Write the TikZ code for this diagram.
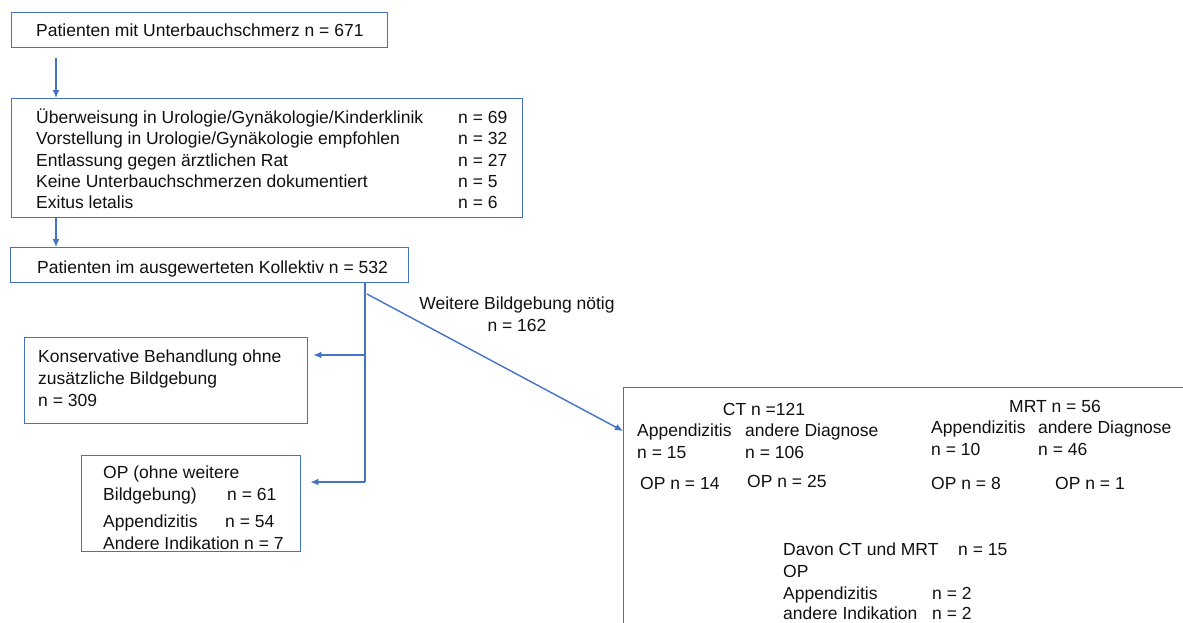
\documentclass[tikz,border=0pt]{standalone}
\usepackage{fontspec}
\setmainfont{Liberation Sans}
\usetikzlibrary{arrows.meta}
\definecolor{obl}{HTML}{4472C4}
\definecolor{txt}{HTML}{101010}
\begin{document}
\begin{tikzpicture}[x=1pt,y=-1pt,
  box/.style={draw=obl, line width=1.4pt, anchor=north west, inner sep=0pt},
  lbl/.style={anchor=base west, inner sep=0pt, text=txt, font=\fontsize{17.5}{21}\selectfont},
  clbl/.style={lbl, anchor=base},
  arr/.style={draw=obl, line width=1.4pt, -{Latex[length=8pt,width=7pt]}},
  ln/.style={draw=obl, line width=1.4pt}]
\useasboundingbox (0,0) rectangle (1183,622);
\clip (0,0) rectangle (1183,622);
% boxes
\node[box, minimum width=376, minimum height=35] (b1) at (11,12) {};
\node[box, minimum width=511, minimum height=119] (b2) at (11,98) {};
\node[box, minimum width=398, minimum height=35] (b3) at (10,247) {};
\node[box, minimum width=283, minimum height=86] (b4) at (24,337) {};
\node[box, minimum width=219, minimum height=96] (b5) at (81,455) {};
\node[box, minimum width=620, minimum height=280] (b6) at (623,387) {};
% texts
\node[lbl] (t1) at (36,36) {Patienten mit Unterbauchschmerz n = 671};
\node[lbl] (t2a) at (36,123) {Überweisung in Urologie/Gynäkologie/Kinderklinik};
\node[lbl] (t2b) at (36,144) {Vorstellung in Urologie/Gynäkologie empfohlen};
\node[lbl] (t2c) at (36,166) {Entlassung gegen ärztlichen Rat};
\node[lbl] (t2d) at (36,187) {Keine Unterbauchschmerzen dokumentiert};
\node[lbl] (t2e) at (36,208) {Exitus letalis};
\node[lbl] (n2a) at (458,123) {n = 69};
\node[lbl] (n2b) at (458,144) {n = 32};
\node[lbl] (n2c) at (458,166) {n = 27};
\node[lbl] (n2d) at (458,187) {n = 5};
\node[lbl] (n2e) at (458,208) {n = 6};
\node[lbl] (t3) at (37,273) {Patienten im ausgewerteten Kollektiv n = 532};
\node[lbl] (t4a) at (38,362) {Konservative Behandlung ohne};
\node[lbl] (t4b) at (38,384) {zusätzliche Bildgebung};
\node[lbl] (t4c) at (38,406) {n = 309};
\node[lbl] (t5a) at (103,478) {OP (ohne weitere};
\node[lbl] (t5b) at (103,500) {Bildgebung)};
\node[lbl] (n5b) at (227,500) {n = 61};
\node[lbl] (t5c) at (103,527) {Appendizitis};
\node[lbl] (n5c) at (225,527) {n = 54};
\node[lbl] (t5d) at (103,549) {Andere Indikation n = 7};
\node[clbl] (w1) at (517,309) {Weitere Bildgebung nötig};
\node[clbl] (w2) at (517,331) {n = 162};
% CT
\node[clbl] (ct) at (764,415) {CT n =121};
\node[lbl] (cta) at (637,436) {Appendizitis};
\node[lbl] (ctd) at (745,436) {andere Diagnose};
\node[lbl] (ctan) at (637,458) {n = 15};
\node[lbl] (ctdn) at (745,458) {n = 106};
\node[lbl] (ctao) at (640,489) {OP n = 14};
\node[lbl] (ctdo) at (747,487) {OP n = 25};
% MRT
\node[clbl] (mr) at (1055,412) {MRT n = 56};
\node[lbl] (mra) at (931,433) {Appendizitis};
\node[lbl] (mrd) at (1038,433) {andere Diagnose};
\node[lbl] (mran) at (931,455) {n = 10};
\node[lbl] (mrdn) at (1038,455) {n = 46};
\node[lbl] (mrao) at (931,489) {OP n = 8};
\node[lbl] (mrdo) at (1055,489) {OP n = 1};
% both
\node[lbl] (bo1) at (783,555) {Davon CT und MRT};
\node[lbl] (bo1n) at (958,555) {n = 15};
\node[lbl] (bo2) at (783,577) {OP};
\node[lbl] (bo3) at (783,599) {Appendizitis};
\node[lbl] (bo3n) at (932,599) {n = 2};
\node[lbl] (bo4) at (783,619) {andere Indikation};
\node[lbl] (bo4n) at (932,619) {n = 2};
% connectors
\coordinate (a1) at (56,58);
\draw[arr] (a1) -- (a1 |- b2.north);
\coordinate (a2) at (56,217);
\draw[arr] (a2) -- (a2 |- b3.north);
\coordinate (v0) at (365,282);
\coordinate (v1) at (365,355);
\coordinate (v2) at (365,482);
\coordinate (d1) at (367,294);
\draw[ln] (v0) -- (v2);
\draw[arr] (v1) -- ([xshift=5pt]b4.east |- v1);
\draw[arr] (v2) -- ([xshift=9pt]b5.east |- v2);
\draw[arr] (d1) -- ([yshift=-44pt]b6.north west);
\end{tikzpicture}
\end{document}
